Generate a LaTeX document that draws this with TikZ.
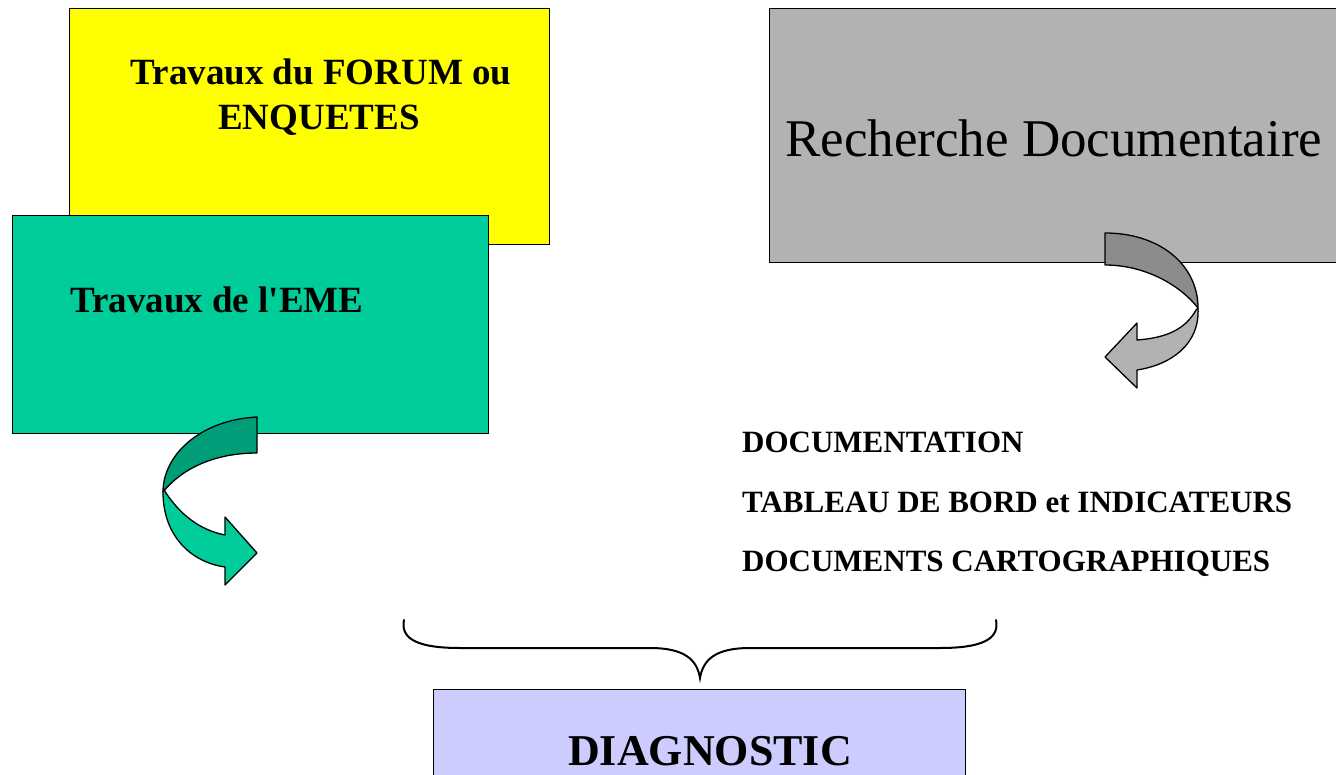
\documentclass[tikz,border=0pt]{standalone}
\usepackage{fontspec}
\setmainfont{Liberation Serif}[Ligatures=TeXOff]
\definecolor{yel}{HTML}{FFFF00}
\definecolor{grn}{HTML}{00CC99}
\definecolor{grnd}{HTML}{009E78}
\definecolor{gry}{HTML}{B2B2B2}
\definecolor{gryd}{HTML}{8C8C8C}
\definecolor{lav}{HTML}{CCCCFF}
\begin{document}
\begin{tikzpicture}[x=1pt,y=-1pt,
  box/.style={draw=black, line width=1.3pt, anchor=north west, inner sep=0pt},
  shp/.style={draw=black, line width=1.3pt, line join=round},
  lbl/.style={anchor=base west, inner sep=0pt, font=\fontsize{31}{36}\selectfont\bfseries}]
\useasboundingbox (0,0) rectangle (1336,775);
\clip (0,0) rectangle (1336,775);
% boxes
\node[box, fill=yel, minimum width=480pt, minimum height=236pt] (forum) at (69,8) {};
\node[box, fill=grn, minimum width=476pt, minimum height=218pt] (eme) at (12,215) {};
\node[box, fill=gry, minimum width=580pt, minimum height=254pt] (rech) at (769,8) {};
\node[box, fill=lav, minimum width=532pt, minimum height=120pt] (diag) at (433,689) {};
% texts
\node[anchor=base, inner sep=0pt, font=\fontsize{37}{44}\selectfont\bfseries] (t1) at (321,85) {Travaux du FORUM ou};
\node[anchor=base, inner sep=0pt, font=\fontsize{37}{44}\selectfont\bfseries] (t2) at (319,130) {ENQUETES};
\node[anchor=base west, inner sep=0pt, font=\fontsize{37}{44}\selectfont\bfseries] (t3) at (70,313) {Travaux de l'EME};
\node[anchor=base west, inner sep=0pt, font=\fontsize{53}{60}\selectfont] (t4) at (785,157) {Recherche Documentaire};
\node[lbl] (d1) at (742,453) {DOCUMENTATION};
\node[lbl] (d2) at (742,512) {TABLEAU DE BORD et INDICATEURS};
\node[lbl] (d3) at (742,571) {DOCUMENTS CARTOGRAPHIQUES};
\node[anchor=base, inner sep=0pt, font=\fontsize{44}{50}\selectfont\bfseries] (t5) at (710,765) {DIAGNOSTIC};
% green curved arrow
\draw[shp, fill=grnd] (257,417) .. controls (200,420) and (163,455) .. (163,492)
  .. controls (185,465) and (220,453) .. (257,453) -- cycle;
\draw[shp, fill=grn] (163,492) .. controls (163,535) and (190,562) .. (225,567)
  -- (225,585) -- (257,553) -- (225,517) -- (225,535)
  .. controls (200,530) and (180,515) .. (164,490) -- cycle;
% gray curved arrow
\draw[shp, fill=gryd] (1105,233) .. controls (1160,233) and (1198,265) .. (1198,308)
  .. controls (1180,285) and (1145,265) .. (1105,265) -- cycle;
\draw[shp, fill=gry] (1198,308) .. controls (1200,345) and (1170,365) .. (1137,370)
  -- (1137,388) -- (1105,357) -- (1137,323) -- (1137,340)
  .. controls (1165,338) and (1185,330) .. (1196,310) -- cycle;
% brace
\draw[line width=2pt, line cap=round] (404,620) .. controls (400,640) and (420,648) .. (460,648)
  -- (650,648) .. controls (685,648) and (697,660) .. (700,678)
  .. controls (703,660) and (715,648) .. (750,648)
  -- (940,648) .. controls (980,648) and (1000,640) .. (996,620);
\end{tikzpicture}
\end{document}
